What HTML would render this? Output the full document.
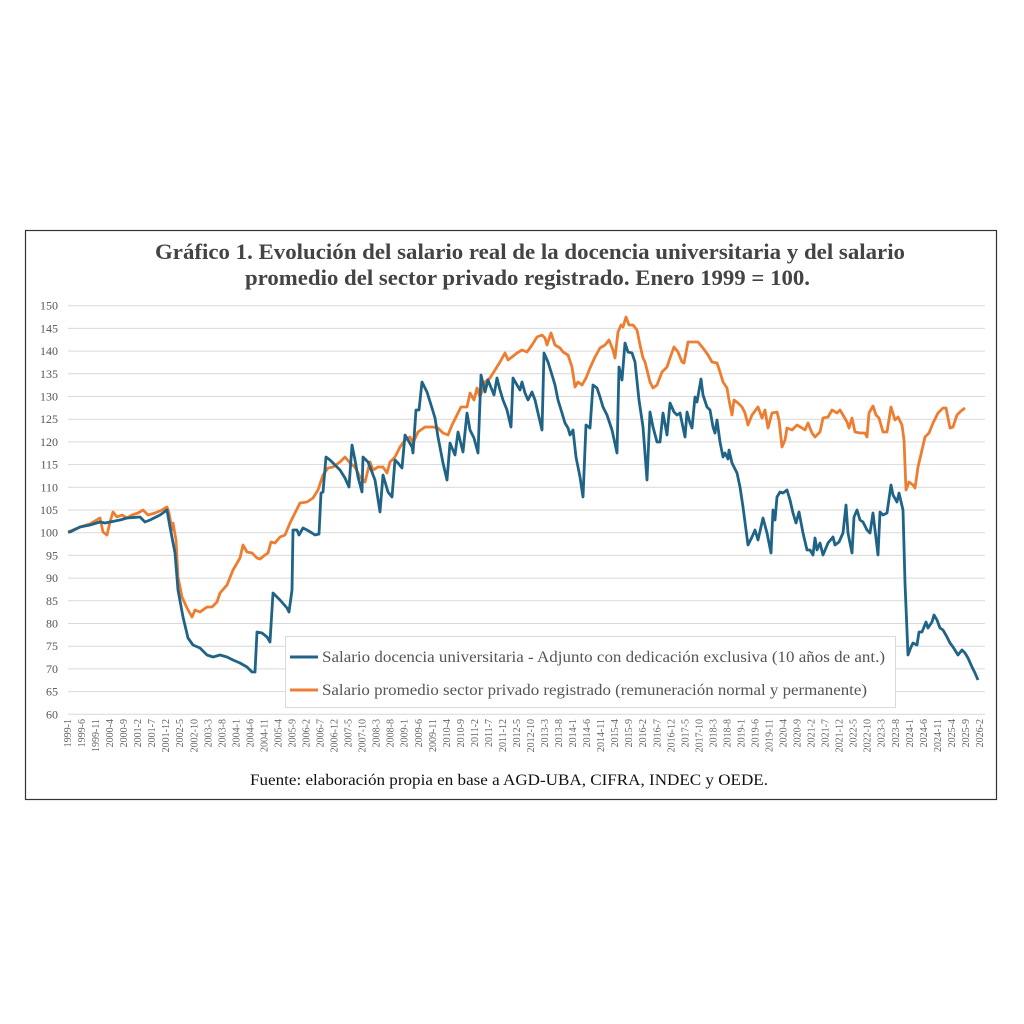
<!DOCTYPE html>
<html><head><meta charset="utf-8"><style>
html,body{margin:0;padding:0;background:#fff;}
svg{display:block;}
.yl{font-family:"Liberation Serif",serif;font-size:12px;fill:#555;text-anchor:end;}
.xl{font-family:"Liberation Serif",serif;font-size:10px;fill:#666;text-anchor:end;}
</style></head><body>
<svg width="1024" height="1024" viewBox="0 0 1024 1024" xmlns="http://www.w3.org/2000/svg">
<rect x="25.5" y="230.5" width="971" height="569" fill="#fff" stroke="#333" stroke-width="1.2"/>
<text x="155" y="259" textLength="750" lengthAdjust="spacingAndGlyphs" font-family="Liberation Serif,serif" font-weight="bold" font-size="22" fill="#444">Gráfico 1. Evolución del salario real de la docencia universitaria y del salario</text>
<text x="245" y="285" textLength="565" lengthAdjust="spacingAndGlyphs" font-family="Liberation Serif,serif" font-weight="bold" font-size="22" fill="#444">promedio del sector privado registrado. Enero 1999 = 100.</text>
<g stroke="#d9d9d9" stroke-width="1">
<line x1="68" x2="985" y1="305.7" y2="305.7"/><line x1="68" x2="985" y1="328.4" y2="328.4"/><line x1="68" x2="985" y1="351.1" y2="351.1"/><line x1="68" x2="985" y1="373.8" y2="373.8"/><line x1="68" x2="985" y1="396.5" y2="396.5"/><line x1="68" x2="985" y1="419.2" y2="419.2"/><line x1="68" x2="985" y1="441.9" y2="441.9"/><line x1="68" x2="985" y1="464.6" y2="464.6"/><line x1="68" x2="985" y1="487.3" y2="487.3"/><line x1="68" x2="985" y1="510" y2="510"/><line x1="68" x2="985" y1="532.7" y2="532.7"/><line x1="68" x2="985" y1="555.4" y2="555.4"/><line x1="68" x2="985" y1="578.1" y2="578.1"/><line x1="68" x2="985" y1="600.8" y2="600.8"/><line x1="68" x2="985" y1="623.5" y2="623.5"/><line x1="68" x2="985" y1="646.2" y2="646.2"/><line x1="68" x2="985" y1="668.9" y2="668.9"/><line x1="68" x2="985" y1="691.6" y2="691.6"/><line x1="68" x2="985" y1="714.3" y2="714.3"/>
</g>
<g class="yl">
<text x="58" y="309.7">150</text><text x="58" y="332.4">145</text><text x="58" y="355.1">140</text><text x="58" y="377.8">135</text><text x="58" y="400.5">130</text><text x="58" y="423.2">125</text><text x="58" y="445.9">120</text><text x="58" y="468.6">115</text><text x="58" y="491.3">110</text><text x="58" y="514">105</text><text x="58" y="536.7">100</text><text x="58" y="559.4">95</text><text x="58" y="582.1">90</text><text x="58" y="604.8">85</text><text x="58" y="627.5">80</text><text x="58" y="650.2">75</text><text x="58" y="672.9">70</text><text x="58" y="695.6">65</text><text x="58" y="718.3">60</text>
</g>
<g class="xl">
<text transform="translate(71,719) rotate(-90)">1999-1</text><text transform="translate(85,719) rotate(-90)">1999-6</text><text transform="translate(99.1,719) rotate(-90)">1999-11</text><text transform="translate(113.1,719) rotate(-90)">2000-4</text><text transform="translate(127.1,719) rotate(-90)">2000-9</text><text transform="translate(141.2,719) rotate(-90)">2001-2</text><text transform="translate(155.2,719) rotate(-90)">2001-7</text><text transform="translate(169.2,719) rotate(-90)">2001-12</text><text transform="translate(183.2,719) rotate(-90)">2002-5</text><text transform="translate(197.3,719) rotate(-90)">2002-10</text><text transform="translate(211.3,719) rotate(-90)">2003-3</text><text transform="translate(225.3,719) rotate(-90)">2003-8</text><text transform="translate(239.4,719) rotate(-90)">2004-1</text><text transform="translate(253.4,719) rotate(-90)">2004-6</text><text transform="translate(267.4,719) rotate(-90)">2004-11</text><text transform="translate(281.5,719) rotate(-90)">2005-4</text><text transform="translate(295.5,719) rotate(-90)">2005-9</text><text transform="translate(309.5,719) rotate(-90)">2006-2</text><text transform="translate(323.5,719) rotate(-90)">2006-7</text><text transform="translate(337.6,719) rotate(-90)">2006-12</text><text transform="translate(351.6,719) rotate(-90)">2007-5</text><text transform="translate(365.6,719) rotate(-90)">2007-10</text><text transform="translate(379.7,719) rotate(-90)">2008-3</text><text transform="translate(393.7,719) rotate(-90)">2008-8</text><text transform="translate(407.7,719) rotate(-90)">2009-1</text><text transform="translate(421.8,719) rotate(-90)">2009-6</text><text transform="translate(435.8,719) rotate(-90)">2009-11</text><text transform="translate(449.8,719) rotate(-90)">2010-4</text><text transform="translate(463.8,719) rotate(-90)">2010-9</text><text transform="translate(477.9,719) rotate(-90)">2011-2</text><text transform="translate(491.9,719) rotate(-90)">2011-7</text><text transform="translate(505.9,719) rotate(-90)">2011-12</text><text transform="translate(520,719) rotate(-90)">2012-5</text><text transform="translate(534,719) rotate(-90)">2012-10</text><text transform="translate(548,719) rotate(-90)">2013-3</text><text transform="translate(562.1,719) rotate(-90)">2013-8</text><text transform="translate(576.1,719) rotate(-90)">2014-1</text><text transform="translate(590.1,719) rotate(-90)">2014-6</text><text transform="translate(604.1,719) rotate(-90)">2014-11</text><text transform="translate(618.2,719) rotate(-90)">2015-4</text><text transform="translate(632.2,719) rotate(-90)">2015-9</text><text transform="translate(646.2,719) rotate(-90)">2016-2</text><text transform="translate(660.3,719) rotate(-90)">2016-7</text><text transform="translate(674.3,719) rotate(-90)">2016-12</text><text transform="translate(688.3,719) rotate(-90)">2017-5</text><text transform="translate(702.4,719) rotate(-90)">2017-10</text><text transform="translate(716.4,719) rotate(-90)">2018-3</text><text transform="translate(730.4,719) rotate(-90)">2018-8</text><text transform="translate(744.4,719) rotate(-90)">2019-1</text><text transform="translate(758.5,719) rotate(-90)">2019-6</text><text transform="translate(772.5,719) rotate(-90)">2019-11</text><text transform="translate(786.5,719) rotate(-90)">2020-4</text><text transform="translate(800.6,719) rotate(-90)">2020-9</text><text transform="translate(814.6,719) rotate(-90)">2021-2</text><text transform="translate(828.6,719) rotate(-90)">2021-7</text><text transform="translate(842.7,719) rotate(-90)">2021-12</text><text transform="translate(856.7,719) rotate(-90)">2022-5</text><text transform="translate(870.7,719) rotate(-90)">2022-10</text><text transform="translate(884.7,719) rotate(-90)">2023-3</text><text transform="translate(898.8,719) rotate(-90)">2023-8</text><text transform="translate(912.8,719) rotate(-90)">2024-1</text><text transform="translate(926.8,719) rotate(-90)">2024-6</text><text transform="translate(940.9,719) rotate(-90)">2024-11</text><text transform="translate(954.9,719) rotate(-90)">2025-4</text><text transform="translate(968.9,719) rotate(-90)">2025-9</text><text transform="translate(983,719) rotate(-90)">2026-2</text>
</g>
<polyline fill="none" stroke="#ED7D31" stroke-width="2.8" stroke-linejoin="round" points="68,532 80,527 90,524 100,518 103,532 107,535 110,522 113,512 117,517 122,515 127,518 132,515 138,513 143,510 148,515 155,513 162,510 167,507 169,513 172,530 173,523 176,540 178,577 182,597 187,608 192,617 195,610 200,612 207,607 212,607 217,602 220,593 227,585 233,570 240,558 243,545 247,552 252,553 257,558 260,559 265,555 268,553 271,542 275,543 280,537 285,535 290,523 295,513 300,503 307,502 313,498 318,490 323,475 328,468 333,467 340,462 345,457 350,463 355,467 360,477 365,482 370,462 373,470 378,467 383,467 387,473 390,462 395,457 400,447 405,440 410,437 413,443 418,432 425,427 433,427 438,428 443,433 448,435 452,425 457,415 461,407 467,407 470,393 474,400 477,388 480,397 485,382 490,378 495,370 500,362 505,353 508,360 512,357 517,353 522,350 527,352 532,345 537,337 542,335 545,338 547,345 551,333 555,345 560,348 563,352 568,355 572,367 575,387 578,382 582,385 586,378 590,368 595,357 600,348 605,345 609,340 613,350 615,358 618,332 621,325 623,327 626,317 629,325 633,325 637,330 640,345 643,358 645,362 647,370 650,382 653,388 657,385 662,372 667,367 670,358 674,347 678,352 682,362 684,363 688,342 693,342 698,342 703,348 708,355 712,362 717,363 720,372 723,382 727,388 729,400 732,415 734,400 738,403 742,407 745,413 748,425 752,415 758,407 762,418 765,410 768,428 772,413 777,412 779,420 782,447 785,440 787,428 792,430 797,425 802,428 805,430 808,423 812,433 815,437 820,432 823,418 828,417 832,410 837,413 840,410 843,415 847,422 849,428 852,418 855,432 860,433 865,433 867,437 869,413 873,406 876,415 879,418 883,432 887,432 891,407 895,420 898,417 902,425 904,440 906,490 909,482 913,485 915,488 918,467 922,450 925,437 929,433 933,423 938,413 943,408 946,408 950,428 953,427 957,415 961,411 965,408"/>
<polyline fill="none" stroke="#1F6387" stroke-width="2.8" stroke-linejoin="round" points="68,532 70,532 80,527 90,525 100,522 105,523 110,522 120,520 127,518 140,517 145,522 150,520 160,515 167,510 170,527 175,553 178,590 183,617 188,638 193,645 200,648 207,655 213,657 220,655 227,657 233,660 240,663 247,667 252,672 255,672 257,632 262,633 267,637 270,642 273,593 280,600 287,608 289,612 292,590 293,530 297,530 299,535 303,528 307,530 312,533 315,535 319,534 321,493 323,492 326,457 330,460 335,465 340,470 345,478 349,487 352,445 355,460 358,477 362,492 363,457 368,462 370,467 375,480 380,512 383,475 388,492 392,497 395,460 398,463 402,468 405,435 408,440 412,447 413,453 416,410 419,410 422,382 427,392 432,408 435,418 438,437 443,463 447,480 450,443 455,455 458,432 463,452 467,413 470,430 474,438 478,453 481,375 485,392 488,380 492,390 494,395 497,378 500,390 503,400 507,410 511,427 513,378 517,385 520,390 522,382 525,393 528,400 532,392 535,400 538,413 542,430 544,353 548,362 552,375 555,385 558,400 562,413 565,423 568,428 570,435 573,430 576,457 580,477 583,497 586,425 590,428 593,385 597,388 600,397 603,407 607,415 612,430 617,453 619,367 622,380 625,343 628,352 632,353 635,362 639,400 643,427 647,480 650,412 653,427 657,442 660,442 663,413 667,435 670,403 674,412 677,415 680,413 685,437 687,412 690,423 692,428 695,397 697,402 701,379 703,395 707,407 710,410 713,427 715,433 717,420 720,442 723,457 725,453 728,459 729,450 732,463 737,473 740,487 743,507 748,545 752,537 755,530 758,540 763,518 767,533 771,553 773,510 775,520 777,497 780,492 783,493 787,490 790,500 793,513 796,523 799,512 803,533 807,550 810,550 813,555 815,538 817,550 820,543 823,555 828,543 833,537 835,545 839,542 843,533 846,505 848,533 852,553 854,517 857,510 860,520 863,522 867,530 870,533 873,513 878,555 880,512 883,515 887,513 891,485 893,495 897,502 899,493 903,510 905,583 908,655 911,647 913,643 917,645 919,632 922,632 926,622 928,628 932,622 934,615 937,620 940,628 943,630 947,637 950,643 953,647 958,655 962,650 965,653 968,658 972,667 975,673 978,680"/>
<rect x="285.5" y="636.5" width="610" height="71" fill="#fff" stroke="#d9d9d9"/>
<line x1="290" x2="318" y1="657" y2="657" stroke="#1F6387" stroke-width="3"/>
<line x1="290" x2="318" y1="690" y2="690" stroke="#ED7D31" stroke-width="3"/>
<text x="322" y="662" textLength="563" lengthAdjust="spacingAndGlyphs" font-family="Liberation Serif,serif" font-size="16" fill="#555">Salario docencia universitaria - Adjunto con dedicación exclusiva (10 años de ant.)</text>
<text x="322" y="695" textLength="545" lengthAdjust="spacingAndGlyphs" font-family="Liberation Serif,serif" font-size="16" fill="#555">Salario promedio sector privado registrado (remuneración normal y permanente)</text>
<text x="250" y="785" textLength="518" lengthAdjust="spacingAndGlyphs" font-family="Liberation Serif,serif" font-size="16" fill="#111">Fuente:  elaboración propia en base a AGD-UBA, CIFRA, INDEC y OEDE.</text>
</svg>
</body></html>
